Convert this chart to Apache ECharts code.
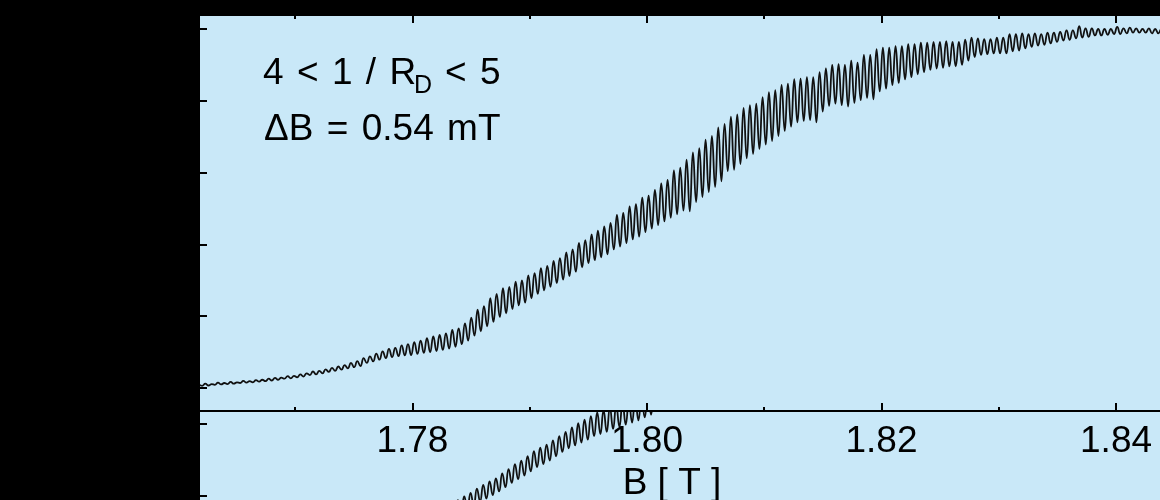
<!DOCTYPE html>
<html>
<head>
<meta charset="utf-8">
<script src="https://cdn.jsdelivr.net/npm/echarts@6.0.0/dist/echarts.min.js"></script>
<style>
  html, body { margin: 0; padding: 0; background: #000; }
  #chart { width: 1160px; height: 500px; }
</style>
</head>
<body>
<div id="chart"></div>
<script>
// field axis (B in tesla)
const xMin = 1.7618
const xMax = 1.84375
const xMajor = [1.78, 1.80, 1.82, 1.84]
const xMinor = [1.77, 1.79, 1.81, 1.83]

// samples every half oscillation period (0.27 mT)
const halfStep = 0.00027
const upperStart = 1.7618
const lowerStart = 1.7828

// upper trace: maxima and minima of the oscillations (arb. units, 10 per tick)
const upperPeaks = [
  0.5, 0.6, 0.55, 0.75, 0.7, 0.85, 0.8, 1.0, 0.95, 1.1,
  1.15, 1.3, 1.4, 1.45, 1.65, 1.7, 1.9, 2.05, 2.3, 2.4,
  2.6, 2.8, 3.0, 3.2, 3.5, 3.75, 4.15, 4.4, 4.8, 5.1,
  5.45, 5.6, 5.95, 6.1, 6.4, 6.6, 6.95, 7.2, 7.4, 7.6,
  8.1, 8.3, 9.0, 9.8, 10.9, 11.4, 12.5, 13.1, 13.9, 14.1,
  14.8, 15.0, 15.7, 16.0, 16.7, 17.0, 17.7, 18.1, 18.9, 19.3,
  20.2, 20.6, 21.4, 21.9, 22.5, 23.0, 24.1, 24.4, 25.3, 25.6,
  26.5, 26.8, 27.6, 28.5, 29.0, 30.3, 30.7, 31.8, 32.8, 33.4,
  34.6, 35.1, 36.3, 36.8, 37.8, 38.1, 39.0, 39.4, 39.6, 40.5,
  41.2, 41.5, 42.2, 42.4, 43.0, 43.1, 43.3, 43.3, 44.0, 44.5,
  45.0, 45.1, 45.0, 45.6, 45.3, 46.4, 46.4, 47.2, 47.4, 47.4,
  47.6, 47.6, 47.9, 47.9, 48.1, 48.1, 48.2, 48.2, 48.3, 48.2,
  48.2, 48.5, 48.8, 48.7, 48.6, 48.6, 48.8, 48.8, 49.3, 49.3,
  49.4, 49.3, 49.4, 49.3, 49.5, 49.5, 49.6, 49.8, 49.8, 50.4,
  50.1, 50.1, 50.0, 50.0, 50.0, 50.3, 50.1, 50.2, 50.1, 50.0,
  50.1, 50.0, 50.0
]
const upperTroughs = [
  0.3, 0.35, 0.45, 0.5, 0.55, 0.6, 0.7, 0.75, 0.8, 0.9,
  0.95, 1.05, 1.15, 1.3, 1.35, 1.5, 1.6, 1.8, 1.9, 2.05,
  2.25, 2.4, 2.55, 2.75, 2.9, 3.05, 3.5, 3.7, 3.95, 4.15,
  4.3, 4.45, 4.55, 4.6, 4.75, 4.9, 5.0, 5.15, 5.3, 5.5,
  5.75, 6.1, 6.6, 7.3, 7.9, 8.6, 9.2, 9.9, 10.4, 11.0,
  11.5, 11.9, 12.5, 13.1, 13.6, 14.1, 14.6, 15.1, 15.6, 16.2,
  16.8, 17.4, 17.8, 18.2, 18.6, 19.3, 19.7, 20.2, 20.7, 21.1,
  21.7, 22.2, 22.7, 23.2, 23.7, 24.2, 24.7, 24.6, 25.9, 26.6,
  27.3, 28.0, 28.8, 30.2, 30.4, 31.2, 32.0, 32.6, 33.3, 33.9,
  34.4, 35.1, 35.8, 36.4, 37.0, 37.2, 37.3, 37.0, 38.5, 39.3,
  39.6, 39.4, 39.2, 39.7, 40.1, 40.4, 40.2, 41.3, 41.7, 42.2,
  42.5, 43.0, 43.3, 43.7, 44.0, 44.3, 44.5, 44.6, 44.8, 44.8,
  45.0, 45.6, 46.1, 46.4, 46.5, 46.6, 46.6, 46.6, 46.9, 47.0,
  47.3, 47.5, 47.7, 47.8, 48.0, 48.2, 48.4, 48.5, 48.7, 48.8,
  48.9, 49.1, 49.1, 49.2, 49.3, 49.3, 49.4, 49.5, 49.5, 49.5,
  49.4, 49.4, 49.4
]

// lower panel trace, only its tail is visible
const lowerPeaks = [
  -1.6, -1.1, -0.6, -0.1, 0.4, 1.0, 1.5, 2.0, 2.4, 3.1,
  3.7, 4.4, 4.9, 5.5, 6.2, 6.7, 7.1, 7.7, 8.3, 8.9,
  9.5, 10.1, 10.6, 11.1, 11.6, 11.9, 12.3, 12.6, 12.9, 13.2,
  13.5, 13.8, 14.3, 14.6, 15.1, 15.5
]
const lowerTroughs = [
  -3.4, -2.9, -2.4, -1.9, -1.4, -0.8, -0.4, 0.1, 0.6, 1.2,
  1.8, 2.3, 2.8, 3.4, 4.0, 4.4, 4.9, 5.5, 6.1, 6.6,
  7.0, 7.4, 7.8, 8.3, 8.6, 8.9, 9.3, 9.6, 9.9, 10.2,
  10.5, 10.9, 11.3, 11.8, 12.2, 12.6
]

const upperYTicks = [0, 10, 20, 30, 40, 50]
const lowerYTicks = [0, 10]

const FONT = '"Liberation Sans", Arial, Helvetica, sans-serif'
const INK = '#000'
const PLOT_BG = '#c9e8f8'

const toPoints = (start, peaks, troughs) => {
  const pts = []
  peaks.forEach((p, i) => {
    pts.push([start + 2 * i * halfStep, p])
    if (i < troughs.length) pts.push([start + (2 * i + 1) * halfStep, troughs[i]])
  })
  return pts
}

const tickAxis = (gridIndex, position, values, len, extra) => ({
  type: 'value',
  gridIndex,
  position,
  min: xMin,
  max: xMax,
  z: 5,
  splitLine: { show: false },
  axisLine: { show: false, onZero: false },
  axisTick: {
    show: true, inside: true, length: len, customValues: values,
    lineStyle: { color: INK, width: 2 }
  },
  axisLabel: { show: false },
  ...extra
})

const yAxis = (gridIndex, min, max, ticks) => ({
  type: 'value',
  gridIndex,
  min,
  max,
  z: 5,
  splitLine: { show: false },
  axisLine: { show: true, onZero: false, lineStyle: { color: INK, width: 2 } },
  axisTick: {
    show: true, inside: true, length: 8, customValues: ticks,
    lineStyle: { color: INK, width: 2 }
  },
  axisLabel: { show: false }
})

const chart = echarts.init(document.getElementById('chart'))

chart.setOption({
  animation: false,
  backgroundColor: '#000',
  grid: [
    { left: 199, right: 0, top: 15, height: 396, show: true, backgroundColor: PLOT_BG, borderWidth: 0, outerBoundsMode: 'none' },
    { left: 199, right: 0, top: 411, height: 143.6, show: true, backgroundColor: PLOT_BG, borderWidth: 0, outerBoundsMode: 'none' }
  ],
  xAxis: [
    tickAxis(0, 'bottom', xMajor, 8, {
      axisLine: { show: true, onZero: false, lineStyle: { color: INK, width: 2 } },
      axisLabel: {
        show: true,
        customValues: xMajor,
        formatter: v => v.toFixed(2),
        color: INK,
        fontSize: 37,
        fontFamily: FONT,
        margin: 12
      },
      name: 'B [ T ]',
      nameLocation: 'middle',
      nameGap: 37,
      nameTextStyle: { color: INK, fontSize: 37, fontFamily: FONT, padding: [0, 15, 0, 0] }
    }),
    tickAxis(0, 'bottom', xMinor, 4),
    tickAxis(0, 'top', xMajor, 8, { axisLine: { show: true, onZero: false, lineStyle: { color: INK, width: 2 } } }),
    tickAxis(0, 'top', xMinor, 4),
    tickAxis(1, 'bottom', [], 0, { show: false })
  ],
  yAxis: [
    yAxis(0, -3.2, 51.95, upperYTicks),
    yAxis(1, -8.2, 11.8, lowerYTicks)
  ],
  graphic: [
    { type: 'text', x: 263, y: 74, style: { text: '4 \u200A< \u200A1 \u200A/ \u200AR', fontSize: 37, fontFamily: FONT, fill: INK, verticalAlign: 'middle' } },
    { type: 'text', x: 414, y: 86, style: { text: 'D', fontSize: 25, fontFamily: FONT, fill: INK, verticalAlign: 'middle' } },
    { type: 'text', x: 445, y: 74, style: { text: '< \u200A5', fontSize: 37, fontFamily: FONT, fill: INK, verticalAlign: 'middle' } },
    { type: 'text', x: 264, y: 130, style: { text: '\u0394B \u200A= \u200A0.54 \u200AmT', fontSize: 37, fontFamily: FONT, fill: INK, verticalAlign: 'middle' } }
  ],
  series: [
    {
      type: 'line',
      xAxisIndex: 0,
      yAxisIndex: 0,
      data: toPoints(upperStart, upperPeaks, upperTroughs),
      symbol: 'none',
      smooth: 0.5,
      clip: true,
      lineStyle: { color: '#111', width: 1.8 }
    },
    {
      type: 'line',
      xAxisIndex: 4,
      yAxisIndex: 1,
      data: toPoints(lowerStart, lowerPeaks, lowerTroughs),
      symbol: 'none',
      smooth: 0.5,
      clip: true,
      lineStyle: { color: '#111', width: 1.8 }
    }
  ]
})
</script>
</body>
</html>
